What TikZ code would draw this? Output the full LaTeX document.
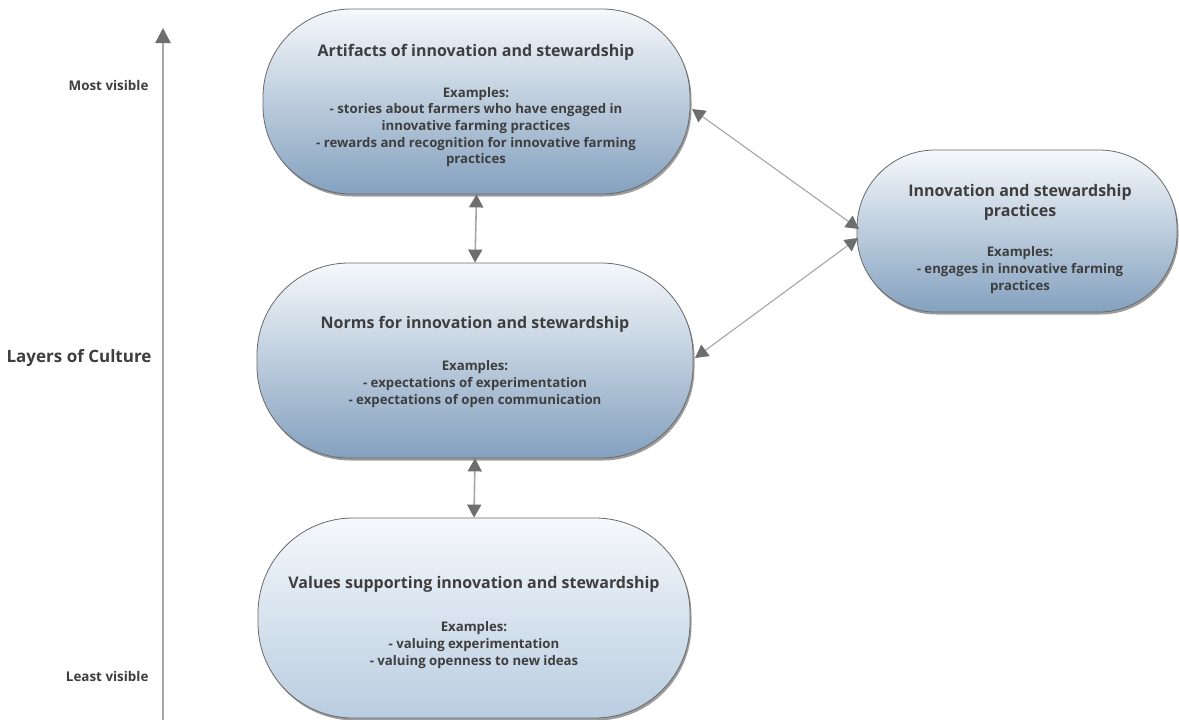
\documentclass[tikz,border=0pt]{standalone}
\usepackage{fontspec}
\setmainfont{Open Sans}
\usetikzlibrary{arrows.meta,shadows}
\definecolor{txt}{HTML}{3E3E3E}
\definecolor{edge}{HTML}{6A6A6A}
\definecolor{linec}{HTML}{A6A6A6}
\definecolor{tipc}{HTML}{6E6E6E}
\definecolor{boxtop}{HTML}{F5F8FB}
\definecolor{boxbot}{HTML}{84A1BF}
\definecolor{boxbotlight}{HTML}{B9CDE1}
\tikzset{
  layerbox/.style={draw=edge, line width=0.8pt, top color=boxtop, bottom color=boxbot,
    drop shadow={shadow xshift=1.5pt, shadow yshift=-2.5pt, opacity=0.55, fill=black!70}},
  titletext/.style={font=\bfseries\fontsize{16}{20}\selectfont, text=txt, align=center},
  bodytext/.style={font=\bfseries\fontsize{13.2}{16.6}\selectfont, text=txt, align=center},
  sidelabel/.style={font=\bfseries\fontsize{13.4}{16}\selectfont, text=txt, anchor=east},
  link/.style={draw=linec, line width=1.6pt, {Triangle[length=13pt,width=14pt,color=tipc]}-{Triangle[length=13pt,width=14pt,color=tipc]}},
  thinlink/.style={draw=linec, line width=1.1pt, {Triangle[length=13pt,width=14pt,color=tipc]}-{Triangle[length=13pt,width=14pt,color=tipc]}}
}
\begin{document}
\begin{tikzpicture}[x=1pt,y=-1pt]
\useasboundingbox[fill=white] (0,0) rectangle (1179,720);

% axis
\coordinate (axbot) at (163,722);
\coordinate (axtop) at (163,28);
\draw[draw=linec, line width=2.4pt, -{Triangle[length=15pt,width=15pt,color=tipc]}] (axbot) -- (axtop);
\node[sidelabel] (most) at (152,85) {Most visible};
\node[sidelabel, font=\bfseries\fontsize{17}{20}\selectfont] (layers) at (155,358) {Layers of Culture};
\node[sidelabel] (least) at (152,676) {Least visible};

% boxes
\node[layerbox, rounded corners=88pt, minimum width=427pt, minimum height=185pt, inner sep=0pt] (art) at (476.5,101.5) {};
\node[layerbox, rounded corners=92pt, minimum width=436pt, minimum height=195pt, inner sep=0pt] (norm) at (475,360.5) {};
\node[layerbox, rounded corners=95pt, minimum width=432pt, minimum height=200pt, inner sep=0pt, bottom color=boxbotlight] (val) at (474,618) {};
\node[layerbox, rounded corners=78pt, minimum width=320pt, minimum height=162pt, inner sep=0pt] (prac) at (1017,231) {};

% texts
\node[titletext] (artT) at (476,52) {Artifacts of innovation and stewardship};
\node[bodytext] (artB) at (476,127) {Examples:\\- stories about farmers who have engaged in\\innovative farming practices\\- rewards and recognition for innovative farming\\practices};

\node[titletext] (normT) at (475,324) {Norms for innovation and stewardship};
\node[bodytext] (normB) at (475,384) {Examples:\\- expectations of experimentation\\- expectations of open communication};

\node[titletext] (valT) at (474,584) {Values supporting innovation and stewardship};
\node[bodytext] (valB) at (474,645) {Examples:\\- valuing experimentation\\- valuing openness to new ideas};

\node[titletext] (pracT) at (1020,202) {Innovation and stewardship\\practices};
\node[bodytext] (pracB) at (1020,270) {Examples:\\- engages in innovative farming\\practices};

% connectors
\draw[link] (art.south) -- (norm.north);
\draw[link] (norm.south) -- (val.north);
\coordinate (artR) at (692,109);
\coordinate (pracL1) at (859,229);
\coordinate (pracL2) at (858,238);
\coordinate (normR) at (695,358);
\draw[thinlink] (artR) -- (pracL1);
\draw[thinlink] (pracL2) -- (normR);
\end{tikzpicture}
\end{document}
